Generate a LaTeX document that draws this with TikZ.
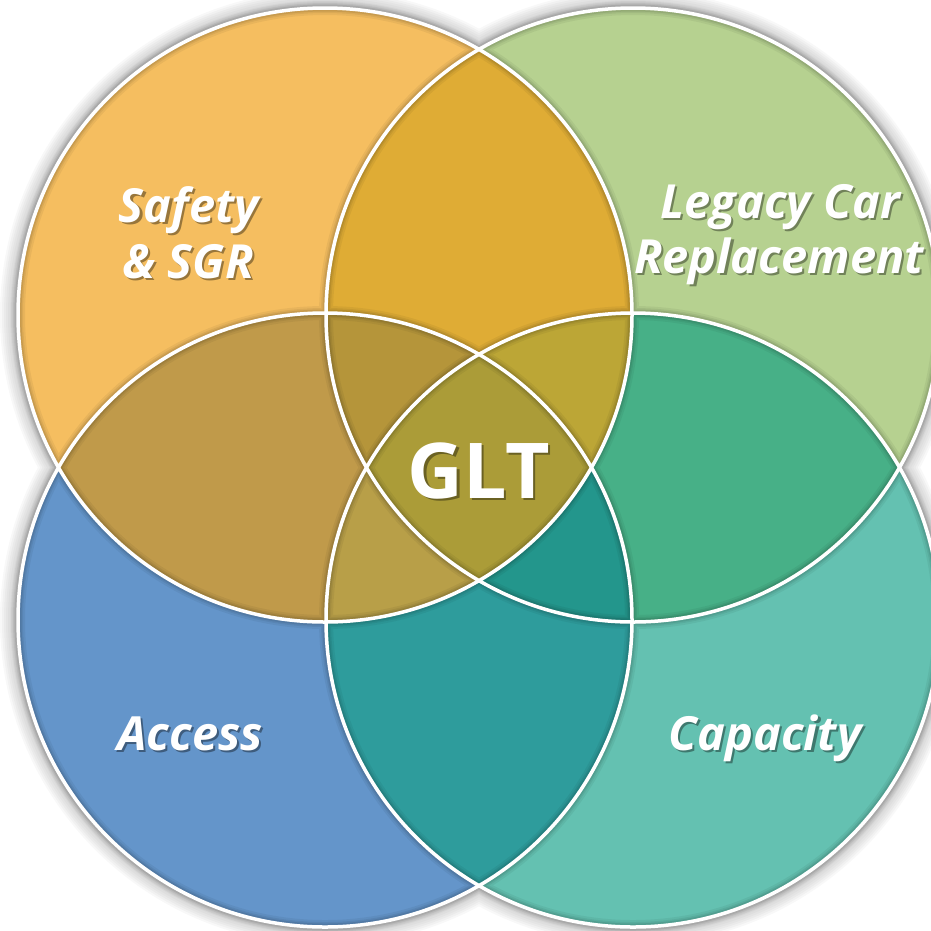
\documentclass[tikz,border=0pt]{standalone}
\usepackage{fontspec}
\setmainfont{Open Sans}
\definecolor{cA}{HTML}{F5BE60}
\definecolor{cB}{HTML}{B6D190}
\definecolor{cC}{HTML}{6495CA}
\definecolor{cD}{HTML}{64C1B1}
\definecolor{cAB}{HTML}{DFAC35}
\definecolor{cAC}{HTML}{C09A4A}
\definecolor{cBD}{HTML}{47B087}
\definecolor{cCD}{HTML}{2E9C9C}
\definecolor{cABC}{HTML}{B5953A}
\definecolor{cABD}{HTML}{BCA636}
\definecolor{cACD}{HTML}{B89F48}
\definecolor{cBCD}{HTML}{23968C}
\definecolor{cABCD}{HTML}{AB9C38}
\newcommand{\shd}[2]{\rlap{\hspace{2.2pt}\raisebox{-2.2pt}{\color{#1}#2}}#2}
\tikzset{
  lbl/.style={font=\fontsize{47}{52}\selectfont\bfseries\itshape, text=white, anchor=base, inner sep=0pt},
  glt/.style={font=\fontsize{77}{84}\selectfont\bfseries, text=white, anchor=base, inner sep=0pt},
}
\newcommand{\rr}{307}
\begin{document}
\begin{tikzpicture}[x=1pt,y=-1pt]
\useasboundingbox (0,0) rectangle (931,930);
\coordinate (A) at (325,315);
\coordinate (B) at (633,315);
\coordinate (C) at (325,620);
\coordinate (D) at (633,620);
% outer soft shadow
\foreach \k in {1,...,9}{
  \fill[black,opacity=0.028] (A) circle ({\rr+2*\k}) (B) circle ({\rr+2*\k}) (C) circle ({\rr+2*\k}) (D) circle ({\rr+2*\k});
}
% base circles
\fill[cA] (A) circle (\rr);
\fill[cB] (B) circle (\rr);
\fill[cC] (C) circle (\rr);
\fill[cD] (D) circle (\rr);
% pairs
\begin{scope}\clip (A) circle (\rr); \fill[cAB] (B) circle (\rr); \end{scope}
\begin{scope}\clip (A) circle (\rr); \fill[cAC] (C) circle (\rr); \end{scope}
\begin{scope}\clip (B) circle (\rr); \fill[cBD] (D) circle (\rr); \end{scope}
\begin{scope}\clip (C) circle (\rr); \fill[cCD] (D) circle (\rr); \end{scope}
% triples
\begin{scope}\clip (A) circle (\rr); \clip (B) circle (\rr); \fill[cABC] (C) circle (\rr); \end{scope}
\begin{scope}\clip (A) circle (\rr); \clip (B) circle (\rr); \fill[cABD] (D) circle (\rr); \end{scope}
\begin{scope}\clip (A) circle (\rr); \clip (C) circle (\rr); \fill[cACD] (D) circle (\rr); \end{scope}
\begin{scope}\clip (B) circle (\rr); \clip (C) circle (\rr); \fill[cBCD] (D) circle (\rr); \end{scope}
% quadruple
\begin{scope}\clip (A) circle (\rr); \clip (B) circle (\rr); \clip (C) circle (\rr); \fill[cABCD] (D) circle (\rr); \end{scope}
% soft line shadows
\foreach \w/\o in {14/0.05,10/0.06,7/0.08}{
  \draw[black,opacity=\o,line width=\w pt] (A) circle (\rr) (B) circle (\rr) (C) circle (\rr) (D) circle (\rr);
}
% white outlines
\draw[white,line width=3.5pt] (A) circle (\rr) (B) circle (\rr) (C) circle (\rr) (D) circle (\rr);
% labels
\node[lbl] (s1) at (189,222) {\shd{cA!62!black}{Safety}};
\node[lbl] (s2) at (188,278) {\shd{cA!62!black}{\& SGR}};
\node[lbl] (l1) at (780,218) {\shd{cB!62!black}{Legacy Car}};
\node[lbl] (l2) at (779,273) {\shd{cB!62!black}{Replacement}};
\node[lbl] (ac) at (190,750) {\shd{cC!62!black}{Access}};
\node[lbl] (cp) at (765,750) {\shd{cD!62!black}{Capacity}};
\node[glt] (g) at (479,498) {\shd{cABCD!62!black}{GLT}};
\end{tikzpicture}
\end{document}
